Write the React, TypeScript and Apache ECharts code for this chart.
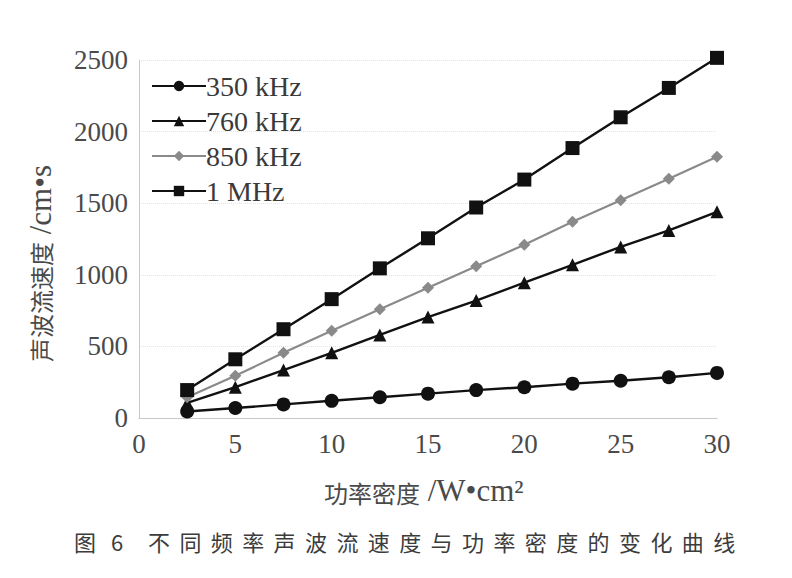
import React, { useEffect, useRef } from "react";
import * as echarts from "echarts";

const powerDensity = [2.5, 5, 7.5, 10, 12.5, 15, 17.5, 20, 22.5, 25, 27.5, 30];
const s350 = [45, 70, 95, 120, 145, 170, 195, 215, 240, 260, 285, 315];
const s760 = [105, 215, 335, 455, 580, 705, 820, 945, 1070, 1195, 1310, 1440];
const s850 = [145, 295, 455, 610, 760, 910, 1060, 1210, 1370, 1520, 1670, 1825];
const s1M = [195, 410, 620, 830, 1045, 1255, 1470, 1665, 1885, 2100, 2305, 2515];
const seriesNames = ["350 kHz", "760 kHz", "850 kHz", "1 MHz"];
const yNameCJK = "声波流速度";
const yNameUnit = " /cm•s";
const xNameCJK = "功率密度";
const xNameUnit = " /W•cm²";
const captionHead = ["图", "6"];
const captionBody = "不同频率声波流速度与功率密度的变化曲线";

const SERIF = "Liberation Serif";
const CJKF = "Noto Sans CJK SC";

export default function App() {
  const ref = useRef<HTMLDivElement>(null);
  useEffect(() => {
    if (!ref.current) return;
    const chart = echarts.init(ref.current, undefined, { renderer: "svg" });
    const pair = (vals: number[]) => powerDensity.map((x, i) => [x, vals[i]]);
    const mk = (name: string, vals: number[], symbol: string, size: number, color: string, width: number) => ({
      name,
      type: "line",
      data: pair(vals),
      symbol,
      symbolSize: size,
      clip: false,
      lineStyle: { color, width },
      itemStyle: { color },
    });
    const cjkStyle = { fontFamily: CJKF, fontSize: 24, fill: "#4a4a4a", verticalAlign: "middle" };
    const unitStyle = { fontFamily: SERIF, fontSize: 31, fill: "#4a4a4a", verticalAlign: "middle" };
    const graphics: any[] = [
      { type: "text", x: 40, y: 242, rotation: Math.PI / 2, style: { ...cjkStyle, text: yNameCJK, align: "right" } },
      { type: "text", x: 40, y: 242, rotation: Math.PI / 2, style: { ...unitStyle, text: yNameUnit, align: "left" } },
      { type: "text", x: 420, y: 492, style: { ...cjkStyle, text: xNameCJK, align: "right" } },
      { type: "text", x: 420, y: 490, style: { ...unitStyle, text: xNameUnit, align: "left" } },
    ];
    captionHead.forEach((c, i) => {
      graphics.push({
        type: "text",
        x: [85, 117][i],
        y: 541,
        style: { text: c, fontSize: 22, fontFamily: CJKF, fill: "#3c3c3c", align: "center", verticalAlign: "middle" },
      });
    });
    captionBody.split("").forEach((c, i) => {
      graphics.push({
        type: "text",
        x: 159 + i * 31.4,
        y: 541,
        style: { text: c, fontSize: 22, fontFamily: CJKF, fill: "#3c3c3c", align: "center", verticalAlign: "middle" },
      });
    });
    chart.setOption({
      animation: false,
      backgroundColor: "#fff",
      grid: { left: 139, top: 60, width: 578, height: 358, containLabel: false },
      legend: {
        orient: "vertical",
        left: 146,
        top: 67,
        itemWidth: 54,
        itemHeight: 13,
        itemGap: 7,
        data: seriesNames,
        textStyle: { fontFamily: SERIF, fontSize: 28, color: "#3a3a3a", padding: [0, 0, 0, -5] },
      },
      xAxis: {
        type: "value",
        min: 0,
        max: 30,
        interval: 5,
        axisLine: { show: true, lineStyle: { color: "#c8c8c8", width: 1 } },
        axisTick: { show: false },
        splitLine: { show: false },
        axisLabel: { fontFamily: SERIF, fontSize: 27, color: "#4a4a4a", margin: 12 },
      },
      yAxis: {
        type: "value",
        min: 0,
        max: 2500,
        interval: 500,
        axisLine: { show: true, lineStyle: { color: "#c8c8c8", width: 1 } },
        axisTick: { show: false },
        splitLine: { show: true, lineStyle: { color: "#e4e4e4", type: "dotted", width: 1 } },
        axisLabel: { fontFamily: SERIF, fontSize: 27, color: "#4a4a4a", margin: 11, formatter: (v: number) => String(v) },
      },
      series: [
        mk(seriesNames[0], s350, "circle", 14, "#111", 2.4),
        mk(seriesNames[1], s760, "triangle", 13, "#111", 2.4),
        mk(seriesNames[2], s850, "diamond", 12, "#8a8a8a", 2.2),
        mk(seriesNames[3], s1M, "rect", 14, "#111", 2.4),
      ],
      graphic: graphics,
    });
    return () => chart.dispose();
  }, []);
  return <div ref={ref} style={{ position: "fixed", left: 0, top: 0, width: 792, height: 578 }} />;
}
